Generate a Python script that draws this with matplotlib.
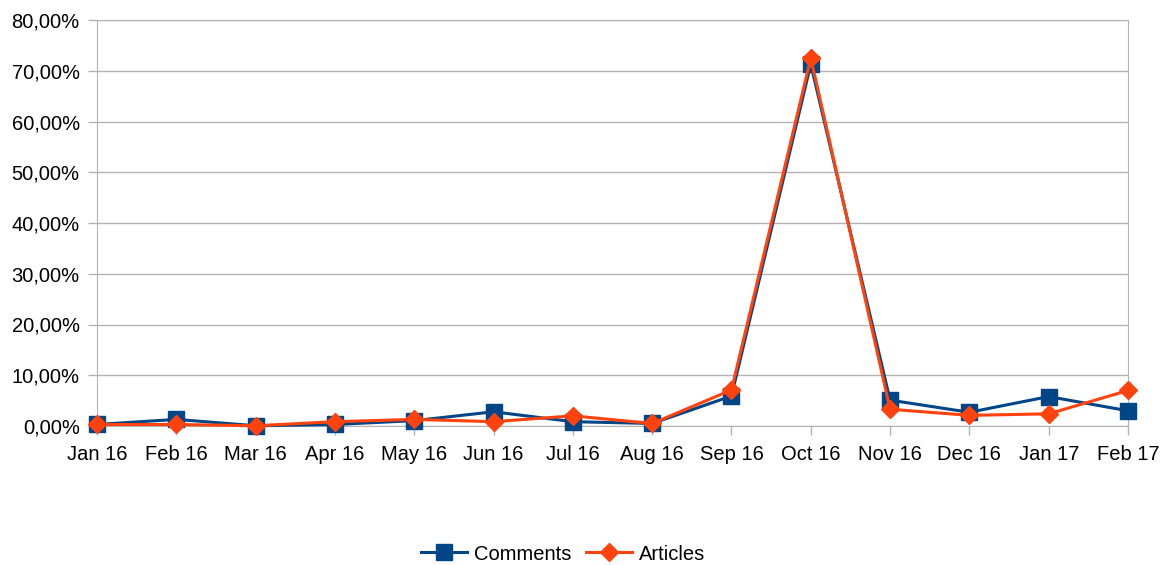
import matplotlib.pyplot as plt
from matplotlib.ticker import FuncFormatter

months = ["Jan 16", "Feb 16", "Mar 16", "Apr 16", "May 16", "Jun 16", "Jul 16",
          "Aug 16", "Sep 16", "Oct 16", "Nov 16", "Dec 16", "Jan 17", "Feb 17"]
comments = [0.3, 1.3, 0.05, 0.3, 1.05, 2.8, 0.85, 0.5, 5.9, 71.3, 5.1, 2.7, 5.8, 3.0]
articles = [0.3, 0.3, 0.05, 0.85, 1.3, 0.85, 2.0, 0.5, 7.1, 72.5, 3.3, 2.1, 2.4, 7.0]

plt.rcParams["font.family"] = ["Liberation Sans", "DejaVu Sans"]

fig = plt.figure(figsize=(11.67, 5.65), dpi=100)
ax = fig.add_axes([97 / 1167, 1 - 426 / 565, (1128 - 97) / 1167, (426 - 20) / 565])

x = list(range(len(months)))
ax.plot(x, comments, color="#004586", lw=2.2, marker="s", ms=11, label="Comments",
        zorder=3, clip_on=False)
ax.plot(x, articles, color="#ff420e", lw=2.2, marker="D", ms=9.5, label="Articles",
        zorder=4, clip_on=False)

ax.set_xlim(0, len(months) - 1)
ax.set_ylim(0, 80)
ax.set_yticks(range(0, 81, 10))
ax.yaxis.set_major_formatter(FuncFormatter(lambda v, p: f"{v:.2f}%".replace(".", ",")))
ax.set_xticks(x)
ax.set_xticklabels(months)

ax.grid(axis="y", color="#b3b3b3", lw=1)
ax.set_axisbelow(True)
for s in ax.spines.values():
    s.set_color("#b3b3b3")
ax.tick_params(axis="both", colors="#b3b3b3", labelcolor="black", labelsize=14.5, length=6.5, width=1)
ax.tick_params(axis="x", pad=7)
ax.tick_params(axis="y", pad=6)

fig.legend(loc="center", bbox_to_anchor=(0.4825, 1 - 554 / 565), ncol=2, frameon=False,
           fontsize=14.5, handlelength=2.3, columnspacing=0.7, handletextpad=0.35)

fig.savefig("out.png", dpi=100)
